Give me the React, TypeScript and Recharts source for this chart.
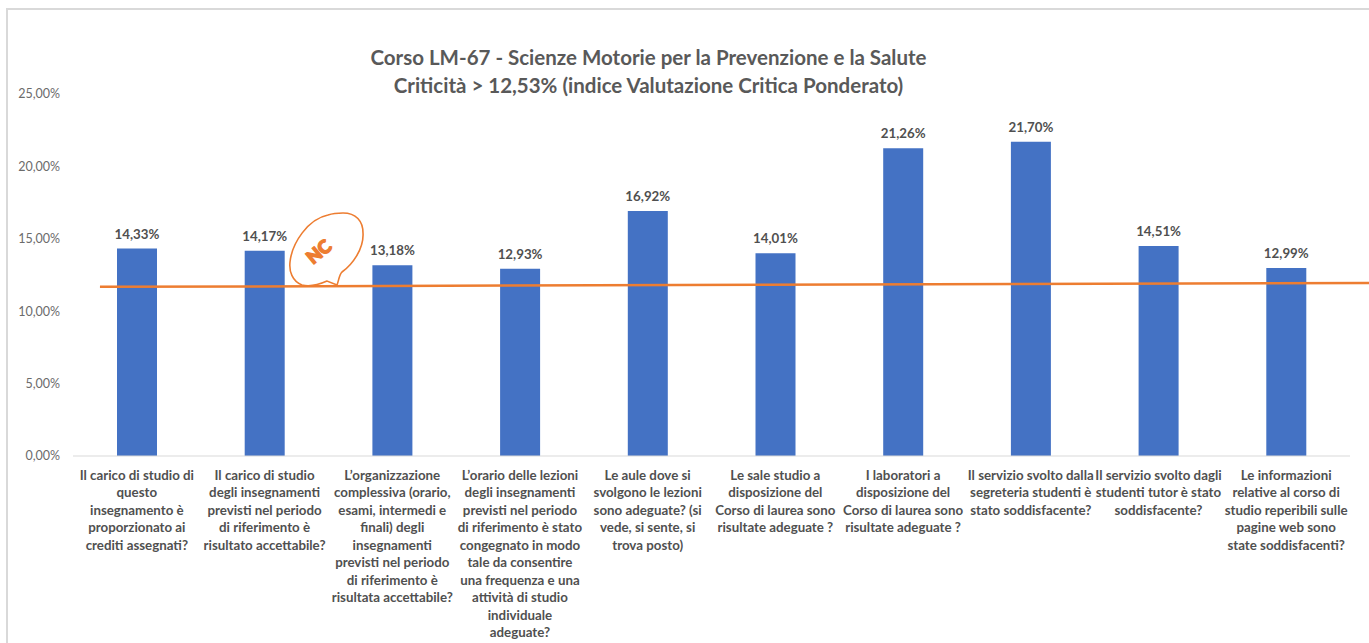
// App.tsx
import React from 'react'
import { ComposedChart, Bar, XAxis, YAxis, LabelList, ReferenceLine } from 'recharts'

const questions = [
  ['Il carico di studio di', 'questo', 'insegnamento è', 'proporzionato ai', 'crediti assegnati?'],
  ['Il carico di studio', 'degli insegnamenti', 'previsti nel periodo', 'di riferimento è', 'risultato accettabile?'],
  ['L’organizzazione', 'complessiva (orario,', 'esami, intermedi e', 'finali) degli', 'insegnamenti', 'previsti nel periodo', 'di riferimento è', 'risultata accettabile?'],
  ['L’orario delle lezioni', 'degli insegnamenti', 'previsti nel periodo', 'di riferimento è stato', 'congegnato in modo', 'tale da consentire', 'una frequenza e una', 'attività di studio', 'individuale', 'adeguate?'],
  ['Le aule dove si', 'svolgono le lezioni', 'sono adeguate? (si', 'vede, si sente, si', 'trova posto)'],
  ['Le sale studio a', 'disposizione del', 'Corso di laurea sono', 'risultate adeguate ?'],
  ['I laboratori a', 'disposizione del', 'Corso di laurea sono', 'risultate adeguate ?'],
  ['Il servizio svolto dalla', 'segreteria studenti è', 'stato soddisfacente?'],
  ['Il servizio svolto dagli', 'studenti tutor è stato', 'soddisfacente?'],
  ['Le informazioni', 'relative al corso di', 'studio reperibili sulle', 'pagine web sono', 'state soddisfacenti?'],
]
const values = [14.33, 14.17, 13.18, 12.93, 16.92, 14.01, 21.26, 21.7, 14.51, 12.99]
const yTicks = [0, 5, 10, 15, 20, 25]
const trendX = [0.19, 10.15]
const trendY = [11.68, 11.98]

const chartData = values.map((value, i) => ({ id: i, value }))
const pct = (v: number) => v.toFixed(2).replace('.', ',') + '%'

const font = 'Lato, sans-serif'

function QuestionTick({ x, y, payload }: any) {
  const lines = questions[payload.value]
  return (
    <text x={x} y={y} textAnchor="middle" fontFamily={font} fontSize={13.3} fontWeight={700} fill="#505050">
      {lines.map((line: string, i: number) => (
        <tspan key={i} x={x} y={y + 16 + i * 17.45}>{line}</tspan>
      ))}
    </text>
  )
}

export default function App() {
  return (
    <div style={{ position: 'absolute', left: 0, top: 0, width: 1369, height: 643, overflow: 'hidden', background: '#fff' }}>
      <div style={{ position: 'absolute', left: 6, top: 8, width: 1363, height: 635, borderLeft: '2px solid #d9d9d9', borderTop: '2px solid #d9d9d9', boxSizing: 'border-box' }} />
      <div style={{ position: 'absolute', left: 0, top: 43, width: 1297, textAlign: 'center', fontFamily: font, fontSize: 20.5, fontWeight: 700, color: '#595959', lineHeight: '28px' }}>
        <div>Corso LM-67 - Scienze Motorie per la Prevenzione e la Salute</div>
        <div>Criticità &gt; 12,53% (indice Valutazione Critica Ponderato)</div>
      </div>
      <ComposedChart
        width={1369}
        height={643}
        data={chartData}
        margin={{ top: 94, right: 19, bottom: 0, left: 0 }}
        style={{ position: 'absolute', left: 0, top: 0 }}
      >
        <XAxis
          xAxisId="cat"
          dataKey="id"
          height={187}
          interval={0}
          tickLine={false}
          axisLine={{ stroke: '#d9d9d9', strokeWidth: 1 }}
          tick={<QuestionTick />}
        />
        <XAxis xAxisId="trend" type="number" domain={[0, 10]} hide />
        <YAxis
          width={73}
          domain={[0, 25]}
          ticks={yTicks}
          tickFormatter={pct}
          tickLine={false}
          axisLine={false}
          tick={{ fontFamily: font, fontSize: 12.5, fill: '#6b6b6b' }}
          tickMargin={7}
        />
        <Bar xAxisId="cat" dataKey="value" fill="#4472C4" barSize={40} isAnimationActive={false}>
          <LabelList dataKey="value" position="top" offset={10} formatter={(v: any) => pct(Number(v))} fontFamily={font} fontSize={13.3} fontWeight={700} fill="#505050" />
        </Bar>
        <ReferenceLine
          xAxisId="trend"
          ifOverflow="visible"
          stroke="#ED7D31"
          strokeWidth={2.5}
          segment={[{ x: trendX[0], y: trendY[0] }, { x: trendX[1], y: trendY[1] }]}
        />
      </ComposedChart>
      <svg width={100} height={90} style={{ position: 'absolute', left: 280, top: 205 }}>
        <path
          d="M 22 80 C 12 76 9 66 10 57 C 12 38 28 14 48 10 C 54 8 60 8 63 8 C 76 8 83 16 83 28 C 84 44 72 60 62 67 C 59 70 59 75 57 80 L 47 76 C 38 80 30 82 22 80 Z"
          fill="none"
          stroke="#ED7D31"
          strokeWidth={1.6}
        />
        <text x={0} y={0} transform="translate(40 48) rotate(-40)" textAnchor="middle" dominantBaseline="middle" fontFamily={font} fontSize={18} fontWeight={900} fill="#ED7D31" stroke="#ED7D31" strokeWidth={1.5}>NC</text>
      </svg>
    </div>
  )
}
